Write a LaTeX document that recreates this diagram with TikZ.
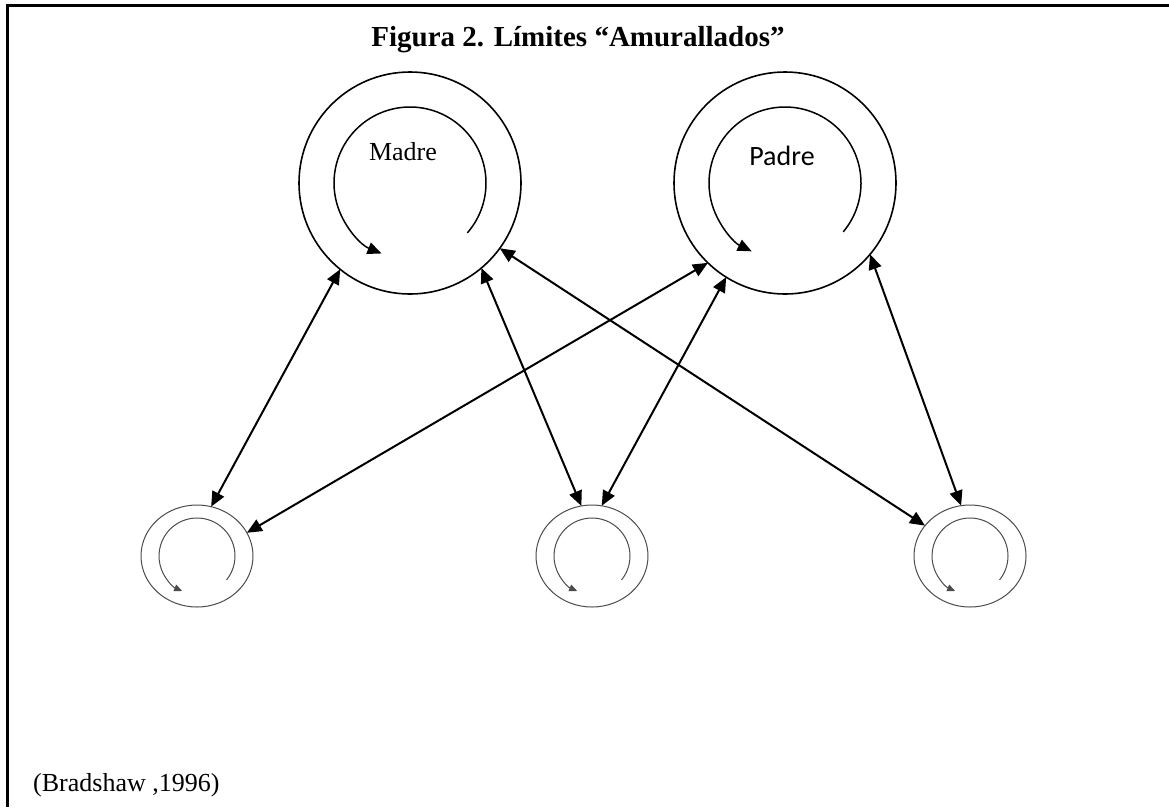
\documentclass[tikz,border=0pt]{standalone}
\usepackage{fontspec}
\setmainfont{Liberation Serif}
\newfontfamily\calibri{Carlito}
\usetikzlibrary{arrows.meta,shapes.geometric}
\begin{document}
\begin{tikzpicture}[x=1pt,y=1pt,
  big/.style={circle,draw,line width=1.6pt,minimum size=222pt,inner sep=0pt,outer sep=0pt},
  small/.style={ellipse,draw=black!70,line width=1pt,minimum width=112pt,minimum height=102pt,inner sep=0pt,outer sep=0pt},
  link/.style={line width=2pt,{Triangle[length=15pt,width=13pt]}-{Triangle[length=15pt,width=13pt]}},
  bigloop/.style={line width=1.5pt,-{Triangle[length=14pt,width=12pt]}},
  smallloop/.style={draw=black!70,line width=1pt,-{Triangle[length=8pt,width=7pt]}},
  lbl/.style={font=\fontsize{26}{30}\selectfont,inner sep=0pt}
]
\useasboundingbox (0,0) rectangle (1169,-807);
\fill[white] (0,0) rectangle (1169,-807);
% frame
\draw[line width=3pt] (7,-807) -- (7,-5) -- (1169,-5);
% title
\node[lbl,anchor=base,font=\fontsize{29}{33}\selectfont\bfseries] (title) at (578,-46) {Figura 2. Límites “Amurallados”};
% big circles
\node[big] (M) at (410,-183) {};
\node[big] (P) at (785,-183) {};
\draw[bigloop] (M.center) ++(-41:76) arc[start angle=-41,end angle=248,radius=76];
\draw[bigloop] (P.center) ++(-40:76) arc[start angle=-40,end angle=244,radius=76];
\node[lbl,anchor=base] (mt) at (403,-160) {Madre};
\node[lbl,anchor=base,font=\fontsize{28}{32}\selectfont\calibri] (pt) at (782,-165) {Padre};
% small circles
\node[small] (S1) at (197,-556) {};
\node[small] (S2) at (592,-556) {};
\node[small] (S3) at (970,-556) {};
\foreach \s in {S1,S2,S3}{
  \draw[smallloop] (\s.center) ++(-39:38) arc[start angle=-39,end angle=247,radius=38];
}
% connectors
\draw[link] (M.231) -- (S1.74);
\draw[link] (M.310) -- (S2.102);
\draw[link] (M.324) -- (S3.146);
\draw[link] (P.226) -- (S1.25);
\draw[link] (P.238) -- (S2.79);
\draw[link] (P.320) -- (S3.100);
% source
\node[lbl,anchor=base west] (src) at (33,-791) {(Bradshaw ,1996)};
\end{tikzpicture}
\end{document}
